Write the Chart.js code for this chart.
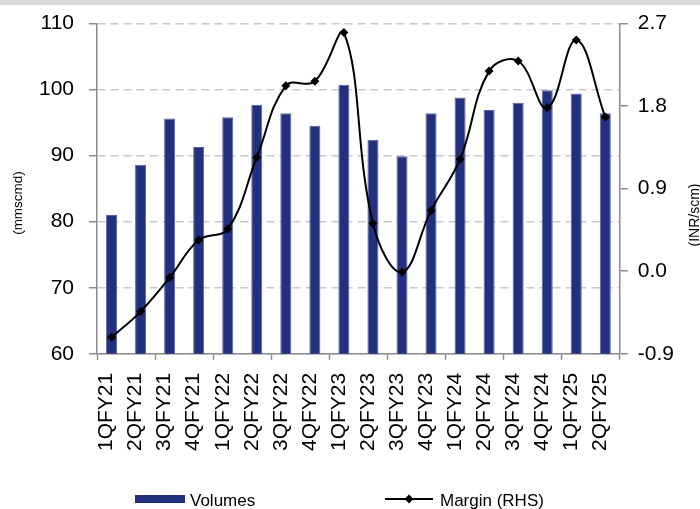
<!DOCTYPE html>
<html>
<head>
<meta charset="utf-8">
<script src="https://cdn.jsdelivr.net/npm/chart.js@4.4.0/dist/chart.umd.min.js"></script>
<style>
  html, body { margin: 0; padding: 0; background: #ffffff; }
  #wrap { width: 700px; height: 509px; position: relative; }
</style>
</head>
<body>
<div id="wrap"><canvas id="chart" width="700" height="509"></canvas></div>
<script>
// Quarterly gas volumes (mmscmd) and margin (INR/scm)
const quarters = ['1QFY21', '2QFY21', '3QFY21', '4QFY21', '1QFY22', '2QFY22', '3QFY22', '4QFY22',
                  '1QFY23', '2QFY23', '3QFY23', '4QFY23', '1QFY24', '2QFY24', '3QFY24', '4QFY24',
                  '1QFY25', '2QFY25'];
const volumes = [81.0, 88.6, 95.6, 91.3, 95.8, 97.7, 96.4, 94.5, 100.7, 92.4,
                 89.9, 96.4, 98.8, 96.9, 98.0, 99.9, 99.4, 96.4];
const margin = [-0.72, -0.44, -0.07, 0.34, 0.46, 1.24, 2.02, 2.07, 2.60, 0.52,
                -0.01, 0.66, 1.22, 2.18, 2.29, 1.78, 2.52, 1.68];
const volumeTicks = [60, 70, 80, 90, 100, 110];
const marginTicks = [-0.9, 0.0, 0.9, 1.8, 2.7];

const FONT = "'Liberation Sans', Arial, sans-serif";
const BAR_COLOR = '#22307e';
const AXIS_COLOR = '#8c8c8c';

// Axis titles, legend and the grey strip along the top edge
const decorations = {
  id: 'decorations',
  beforeDraw(chart) {
    const ctx = chart.ctx;
    ctx.save();
    ctx.fillStyle = '#d9d9d9';
    ctx.fillRect(0, 0, chart.width, 5);
    ctx.restore();
  },
  afterDraw(chart) {
    const ctx = chart.ctx;
    ctx.save();
    ctx.fillStyle = '#000';
    ctx.textAlign = 'center';
    ctx.textBaseline = 'alphabetic';

    // left axis title
    ctx.font = '13.5px ' + FONT;
    ctx.save();
    ctx.translate(22, 203);
    ctx.rotate(-Math.PI / 2);
    ctx.fillText('(mmscmd)', 0, 0);
    ctx.restore();

    // right axis title
    ctx.font = '14px ' + FONT;
    ctx.save();
    ctx.translate(699, 215);
    ctx.rotate(-Math.PI / 2);
    ctx.fillText('(INR/scm)', 0, 0);
    ctx.restore();

    // legend
    const ds = chart.data.datasets;
    const ly = 499;
    ctx.font = '17px ' + FONT;
    ctx.textAlign = 'left';
    ctx.fillStyle = ds[1].backgroundColor;
    ctx.fillRect(135, ly - 4, 50, 8);
    ctx.fillStyle = '#000';
    ctx.fillText(ds[1].label, 190, ly + 7);

    ctx.strokeStyle = ds[0].borderColor;
    ctx.lineWidth = 2;
    ctx.beginPath();
    ctx.moveTo(385, ly);
    ctx.lineTo(433, ly);
    ctx.stroke();
    ctx.fillStyle = ds[0].pointBackgroundColor;
    ctx.beginPath();
    ctx.moveTo(409, ly - 4.5);
    ctx.lineTo(413.5, ly);
    ctx.lineTo(409, ly + 4.5);
    ctx.lineTo(404.5, ly);
    ctx.closePath();
    ctx.fill();
    ctx.fillStyle = '#000';
    ctx.fillText(ds[0].label, 440, ly + 7);
    ctx.restore();
  }
};

new Chart(document.getElementById('chart'), {
  data: {
    labels: quarters,
    datasets: [
      {
        type: 'line',
        label: 'Margin (RHS)',
        data: margin,
        yAxisID: 'y1',
        order: 0,
        borderColor: '#000000',
        borderWidth: 2,
        tension: 0.4,
        pointStyle: 'rectRot',
        pointRadius: 4.5,
        pointBackgroundColor: '#000000',
        pointBorderColor: '#000000',
        pointBorderWidth: 0
      },
      {
        type: 'bar',
        label: 'Volumes',
        data: volumes,
        yAxisID: 'y',
        order: 1,
        backgroundColor: BAR_COLOR,
        borderColor: '#5561a0',
        borderWidth: 1,
        barPercentage: 0.38,
        categoryPercentage: 1.0
      }
    ]
  },
  options: {
    responsive: false,
    animation: false,
    events: [],
    layout: { padding: { left: 24, right: 16, top: 17, bottom: 45 } },
    plugins: {
      legend: { display: false },
      tooltip: { enabled: false },
      title: { display: false }
    },
    scales: {
      x: {
        offset: true,
        grid: {
          offset: true,
          drawOnChartArea: false,
          drawTicks: true,
          tickLength: 6,
          tickColor: (c) => (c.index === undefined || c.index % 2 === 0) ? AXIS_COLOR : 'rgba(0,0,0,0)',
          tickWidth: 1.5
        },
        border: { color: AXIS_COLOR, width: 1.5 },
        ticks: {
          autoSkip: false,
          minRotation: 90,
          maxRotation: 90,
          padding: 13,
          labelOffset: -5,
          color: '#000',
          font: { family: FONT, size: 21 }
        }
      },
      y: {
        position: 'left',
        min: 60,
        max: 110,
        afterBuildTicks: (scale) => { scale.ticks = volumeTicks.map(v => ({ value: v })); },
        grid: {
          display: true,
          drawOnChartArea: true,
          color: '#c8c8c8',
          lineWidth: 1.5,
          tickLength: 8,
          tickColor: AXIS_COLOR,
          tickBorderDash: []
        },
        border: { color: AXIS_COLOR, width: 1.5, dash: [8, 5] },
        ticks: {
          padding: 15,
          color: '#000',
          font: { family: FONT, size: 21, lineHeight: 0.8 },
          callback: (v) => String(v)
        }
      },
      y1: {
        position: 'right',
        min: -0.9,
        max: 2.7,
        afterBuildTicks: (scale) => { scale.ticks = marginTicks.map(v => ({ value: v })); },
        grid: {
          drawOnChartArea: false,
          tickLength: 8,
          tickColor: AXIS_COLOR,
          lineWidth: 1.5
        },
        border: { color: AXIS_COLOR, width: 1.5 },
        ticks: {
          padding: 10,
          color: '#000',
          font: { family: FONT, size: 21, lineHeight: 0.8 },
          callback: (v) => Number(v).toFixed(1)
        }
      }
    }
  },
  plugins: [decorations]
});
</script>
</body>
</html>
